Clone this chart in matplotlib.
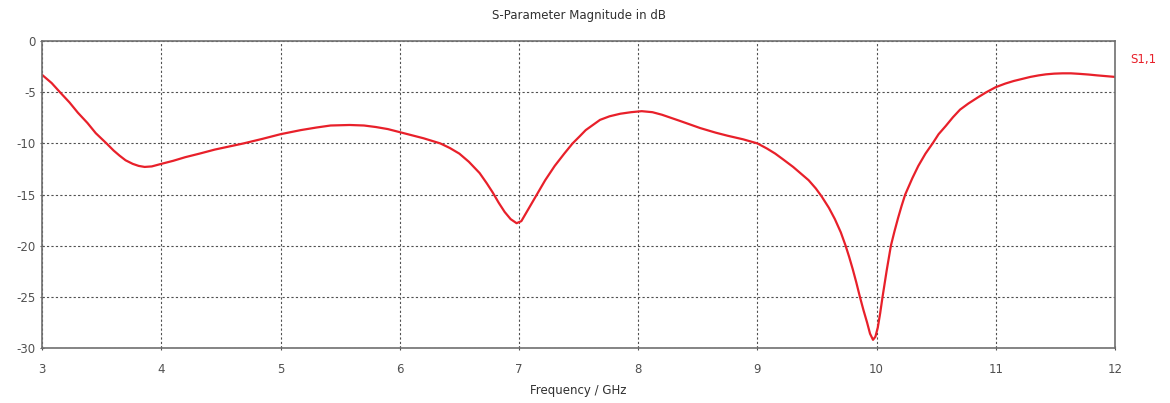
import numpy as np
import matplotlib
matplotlib.use('Agg')
import matplotlib.pyplot as plt

plt.rcParams['axes.unicode_minus'] = False

# S11 magnitude

freq = [3.00, 3.08, 3.15, 3.23, 3.30, 3.38, 3.45, 3.54, 3.60, 3.65, 3.70, 3.76,
        3.81, 3.86, 3.92, 4.00, 4.10, 4.20, 4.32, 4.45, 4.57, 4.69, 4.85,
        5.00, 5.17, 5.30, 5.42, 5.58, 5.70, 5.80, 5.90, 6.00, 6.10, 6.20, 6.34,
        6.42, 6.50, 6.58, 6.67, 6.73, 6.78, 6.83, 6.88, 6.93, 6.98, 7.02, 7.06,
        7.10, 7.15, 7.22, 7.30, 7.38, 7.45, 7.51, 7.56, 7.62, 7.68, 7.76, 7.85,
        7.94, 8.03, 8.12, 8.20, 8.35, 8.52, 8.65, 8.75, 8.88, 9.00, 9.08, 9.15,
        9.22, 9.30, 9.37, 9.43, 9.49, 9.54, 9.60, 9.65, 9.70, 9.74, 9.77, 9.80,
        9.83, 9.86, 9.89, 9.92, 9.945, 9.97, 9.99, 10.01, 10.03, 10.05, 10.085,
        10.12, 10.15, 10.18, 10.21, 10.24, 10.30, 10.35, 10.41, 10.47, 10.52,
        10.58, 10.64, 10.70, 10.77, 10.85, 10.92, 11.00, 11.08, 11.15, 11.22,
        11.29, 11.36, 11.42, 11.49, 11.56, 11.63, 11.70, 11.78, 11.85, 11.92, 12.00]
s11 = [-3.3, -4.1, -5.0, -6.0, -7.0, -8.0, -9.0, -10.0, -10.7, -11.2, -11.65, -12.0,
       -12.2, -12.3, -12.25, -12.0, -11.7, -11.35, -11.0, -10.6, -10.3, -10.0, -9.55,
       -9.1, -8.7, -8.45, -8.25, -8.2, -8.25, -8.4, -8.6, -8.9, -9.2, -9.5, -10.0,
       -10.45, -11.0, -11.8, -12.9, -13.9, -14.8, -15.8, -16.7, -17.4, -17.8, -17.6, -16.8,
       -16.0, -15.0, -13.6, -12.2, -11.0, -10.0, -9.3, -8.7, -8.2, -7.7, -7.35, -7.1,
       -6.95, -6.85, -6.95, -7.2, -7.8, -8.5, -8.95, -9.25, -9.6, -10.0, -10.5, -11.0,
       -11.6, -12.3, -13.0, -13.6, -14.4, -15.2, -16.3, -17.4, -18.7, -20.0, -21.1, -22.3,
       -23.6, -25.0, -26.3, -27.5, -28.6, -29.2, -28.9, -28.0, -26.6, -25.0, -22.4,
       -20.0, -18.6, -17.3, -16.1, -15.0, -13.4, -12.2, -11.0, -10.0, -9.1,
       -8.3, -7.45, -6.7, -6.1, -5.5, -5.0, -4.5, -4.15, -3.9, -3.7,
       -3.5, -3.35, -3.25, -3.18, -3.15, -3.15, -3.2, -3.27, -3.35, -3.42, -3.5]

xticks = [3, 4, 5, 6, 7, 8, 9, 10, 11, 12]
yticks = [0, -5, -10, -15, -20, -25, -30]

fig = plt.figure(figsize=(11.7, 4.03), dpi=100)
ax = fig.add_axes([0.036, 0.1365, 0.917, 0.7615])

ax.plot(freq, s11, color='#e8202a', lw=1.6)

ax.set_xlim(3, 12)
ax.set_ylim(-30, 0)
ax.set_xticks(xticks)
ax.set_yticks(yticks)
ax.tick_params(labelsize=8.5, colors='#505050', length=3, direction='inout', width=0.8)
ax.tick_params(axis='x', pad=9)
ax.tick_params(axis='y', pad=3)

ax.grid(True, color='#505050', linestyle=(0, (2, 2)), linewidth=0.8)
for s in ax.spines.values():
    s.set_color('#707070')
    s.set_linewidth(1.2)

ax.set_title('S-Parameter Magnitude in dB', fontsize=8.5, color='#303030', pad=16)
ax.set_xlabel('Frequency / GHz', fontsize=8.5, color='#303030', labelpad=6)
fig.text(0.966, 0.853, 'S1,1', color='#e8202a', fontsize=8.5, ha='left', va='center')

fig.savefig('out.png', dpi=100)
